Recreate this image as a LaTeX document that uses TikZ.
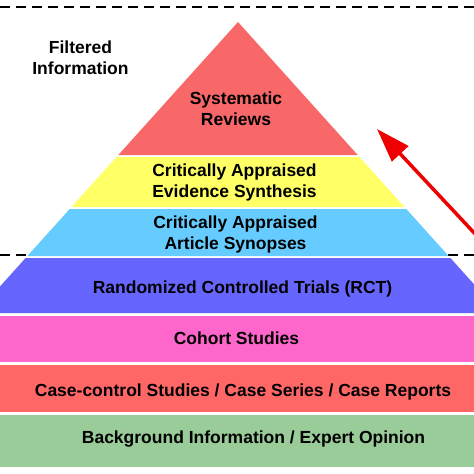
\documentclass[tikz,border=0pt]{standalone}
\usepackage{fontspec}
\setmainfont{Liberation Sans}
\usetikzlibrary{arrows.meta}
\definecolor{tricol}{HTML}{F86868}
\definecolor{yelcol}{HTML}{FFFF66}
\definecolor{blucol}{HTML}{66CCFF}
\definecolor{purcol}{HTML}{6666FF}
\definecolor{pnkcol}{HTML}{FF66CC}
\definecolor{redcol}{HTML}{FF6666}
\definecolor{grncol}{HTML}{99CC99}
\definecolor{arrcol}{HTML}{EE0000}
\begin{document}
\begin{tikzpicture}[x=1pt,y=-1pt,
  lbl/.style={font=\bfseries\fontsize{17.5}{21}\selectfont, align=center, inner sep=0pt, text=black},
  dashline/.style={line width=2.4pt, dash pattern=on 10pt off 6pt},
  redarrow/.style={draw=arrcol, line width=3.5pt, -{Triangle[length=34pt,width=22pt]}}]
\useasboundingbox (0,0) rectangle (474,474);
\clip (0,0) rectangle (474,474);
\fill[white] (0,0) rectangle (474,474);
% dashed separators
\draw[dashline] (0,7) -- (474,7);
\draw[dashline] (0,255) -- (474,255);
% pyramid bands
\fill[tricol] (238,22) -- (357.7,155) -- (118.3,155) -- cycle;
\fill[yelcol] (116.5,157) -- (359.5,157) -- (404.5,207) -- (71.5,207) -- cycle;
\fill[blucol] (69.7,209) -- (406.3,209) -- (448.6,256) -- (27.4,256) -- cycle;
\fill[purcol] (25.6,258) -- (450.4,258) -- (499.9,313) -- (-23.9,313) -- cycle;
\fill[pnkcol] (-5,316) rectangle (479,362);
\fill[redcol] (-5,365) rectangle (479,412);
\fill[grncol] (-5,415) rectangle (479,467);
% labels
\node[lbl] (filt) at (80.5,57.5) {Filtered\\Information};
\node[lbl] (sysrev) at (236,109) {Systematic\\Reviews};
\node[lbl] (evsyn) at (234.5,182.5) {Critically Appraised\\Evidence Synthesis};
\node[lbl] (artsyn) at (235.5,234) {Critically Appraised\\Article Synopses};
\node[lbl] (rct) at (242.5,288.8) {Randomized Controlled Trials (RCT)};
\node[lbl] (cohort) at (236.5,338.5) {Cohort Studies};
\node[lbl] (casec) at (243,391.7) {Case-control Studies / Case Series / Case Reports};
\node[lbl] (backg) at (253.5,439.4) {Background Information / Expert Opinion};
% arrow
\coordinate (arrfrom) at (478,237);
\coordinate (arrto) at (377,129);
\draw[redarrow] (arrfrom) -- (arrto);
\end{tikzpicture}
\end{document}
